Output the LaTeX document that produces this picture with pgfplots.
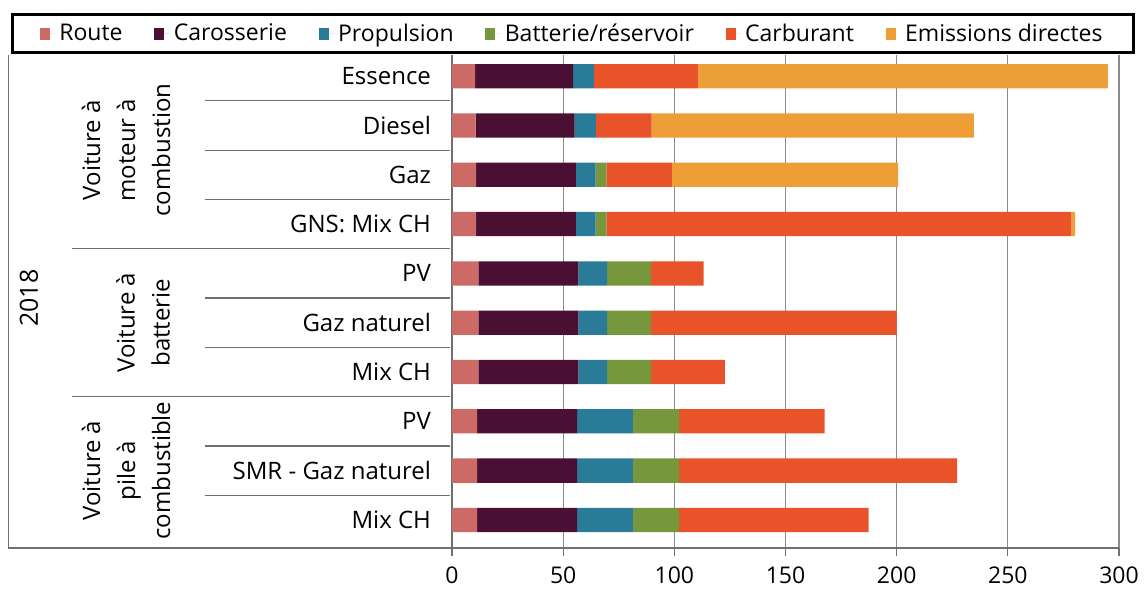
\documentclass[border=0pt]{standalone}
\usepackage{fontspec}
\setmainfont{Open Sans}
\usepackage{pgfplots}
\pgfplotsset{compat=1.18}
\definecolor{cRoute}{HTML}{CC6B66}
\definecolor{cCaro}{HTML}{4A0F33}
\definecolor{cProp}{HTML}{2A7B97}
\definecolor{cBatt}{HTML}{76973B}
\definecolor{cCarb}{HTML}{E8532A}
\definecolor{cEmis}{HTML}{EE9E36}
\definecolor{lineGray}{HTML}{707070}
\definecolor{gridGray}{HTML}{8C8C8C}
\begin{document}
\begin{tikzpicture}
\useasboundingbox (0,0) rectangle (572pt,295pt);
\begin{axis}[
  at={(226pt,21pt)}, anchor=south west,
  scale only axis, width=333.5pt, height=246.5pt,
  xbar stacked, bar width=12.15pt,
  xmin=0, xmax=300, ymin=-0.43, ymax=9.57, y dir=reverse,
  axis lines*=left,
  axis line style={lineGray, line width=0.6pt},
  xtick={0,50,...,300},
  xmajorgrids, grid style={gridGray, line width=0.6pt},
  tick align=outside,
  major tick length=4pt,
  x tick style={lineGray, line width=0.6pt},
  ytick={0,...,9},
  y tick style={draw=none},
  yticklabels={Essence,Diesel,Gaz,{GNS: Mix CH},PV,{Gaz naturel},{Mix CH},PV,{SMR - Gaz naturel},{Mix CH}},
  ticklabel style={font=\fontsize{11.5}{13}\selectfont},
  yticklabel style={font=\fontsize{12}{14}\selectfont, xshift=-3pt},
  xticklabel style={yshift=-2pt},
  /pgf/number format/assume math mode=true,
  clip=false,
  legend columns=6,
  legend style={draw=none, fill=none, at={(axis description cs:0.1814,1.0426)}, anchor=center,
    font=\fontsize{11.5}{13}\selectfont,
    /tikz/every even column/.append style={column sep=14pt},
    nodes={inner sep=1.8pt}},
  legend image code/.code={\fill[#1] (0pt,-3pt) rectangle (5pt,3pt); \path (0pt,0pt) -- (8pt,0pt);},
]
\addplot[fill=cRoute, draw=none] coordinates {(10.4,0) (10.6,1) (10.9,2) (10.9,3) (11.9,4) (11.9,5) (11.9,6) (11.3,7) (11.3,8) (11.3,9)};
\addplot[fill=cCaro, draw=none] coordinates {(44.1,0) (44.5,1) (44.8,2) (44.8,3) (44.9,4) (44.9,5) (44.9,6) (45.0,7) (45.0,8) (45.0,9)};
\addplot[fill=cProp, draw=none] coordinates {(9.3,0) (9.6,1) (8.9,2) (8.9,3) (13.0,4) (13.0,5) (13.0,6) (25.1,7) (25.1,8) (25.1,9)};
\addplot[fill=cBatt, draw=none] coordinates {(0,0) (0,1) (4.8,2) (4.8,3) (19.7,4) (19.7,5) (19.7,6) (20.7,7) (20.7,8) (20.7,9)};
\addplot[fill=cCarb, draw=none] coordinates {(46.8,0) (25.1,1) (29.5,2) (208.9,3) (23.7,4) (110.5,5) (33.2,6) (65.5,7) (125.1,8) (85.3,9)};
\addplot[fill=cEmis, draw=none] coordinates {(184.4,0) (144.9,1) (101.7,2) (2.0,3) (0,4) (0,5) (0,6) (0,7) (0,8) (0,9)};
\legend{Route,Carosserie,Propulsion,Batterie/réservoir,Carburant,Emissions directes}
% separators
\draw[lineGray, line width=0.6pt] (axis cs:-111.1,0.5) -- (axis cs:-0.9,0.5);
\draw[lineGray, line width=0.6pt] (axis cs:-111.1,1.5) -- (axis cs:-0.9,1.5);
\draw[lineGray, line width=0.6pt] (axis cs:-111.1,2.5) -- (axis cs:-0.9,2.5);
\draw[lineGray, line width=0.6pt] (axis cs:-170.9,3.5) -- (axis cs:-0.9,3.5);
\draw[lineGray, line width=0.6pt] (axis cs:-111.1,4.5) -- (axis cs:-0.9,4.5);
\draw[lineGray, line width=0.6pt] (axis cs:-111.1,5.5) -- (axis cs:-0.9,5.5);
\draw[lineGray, line width=0.6pt] (axis cs:-170.9,6.5) -- (axis cs:-0.9,6.5);
\draw[lineGray, line width=0.6pt] (axis cs:-111.1,7.5) -- (axis cs:-0.9,7.5);
\draw[lineGray, line width=0.6pt] (axis cs:-111.1,8.5) -- (axis cs:-0.9,8.5);
% outer frame
\draw[lineGray, line width=0.6pt] (axis cs:-199.3,-0.43) -- (axis cs:-199.3,9.57) -- (axis cs:0,9.57);
% group labels
\node[rotate=90, align=center, font=\fontsize{12}{17.5}\selectfont] at (axis cs:-146.6,1.5) {Voiture à\\moteur à\\combustion};
\node[rotate=90, align=center, font=\fontsize{12}{17.5}\selectfont] at (axis cs:-139,5) {Voiture à\\batterie};
\node[rotate=90, align=center, font=\fontsize{12}{17.5}\selectfont] at (axis cs:-146.6,8) {Voiture à\\pile à\\combustible};
\node[rotate=90, font=\fontsize{12.5}{15}\selectfont] at (axis cs:-190.3,4.5) {2018};
\end{axis}
\draw[black, line width=1.5pt] (6pt,268.5pt) rectangle (566.5pt,287.5pt);
\end{tikzpicture}
\end{document}
